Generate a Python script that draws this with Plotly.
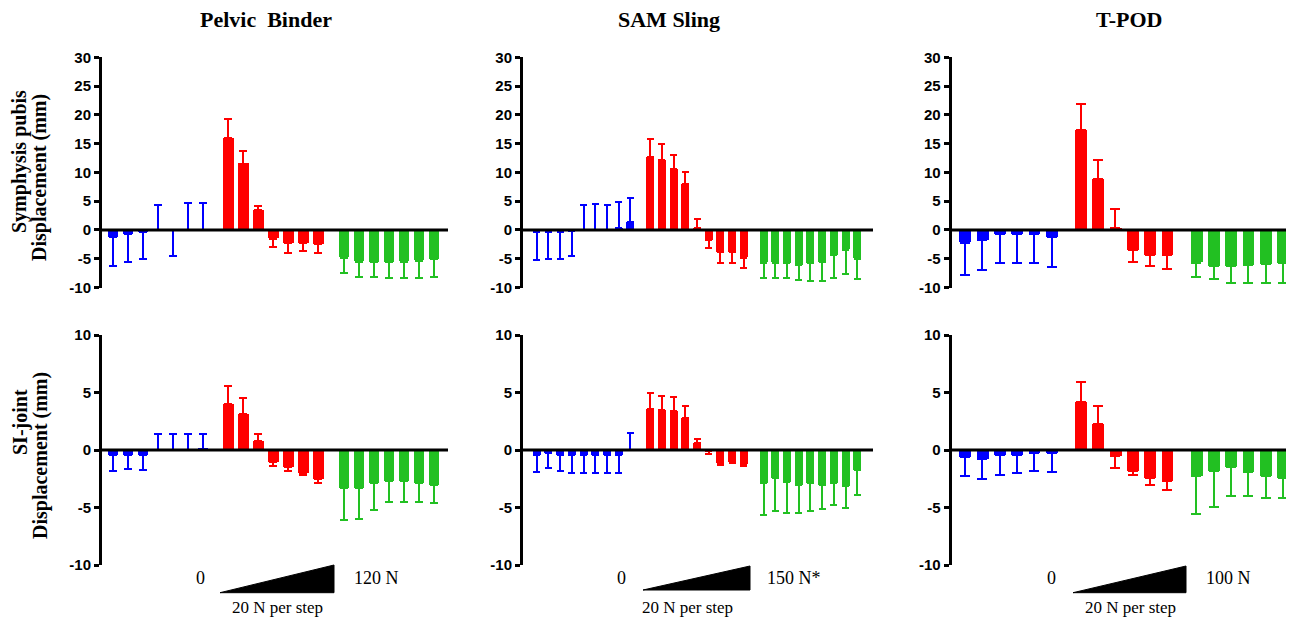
import plotly.graph_objects as go

W, H = 1294, 618
OFF = 8                      # page body margin of the rendered html
FW, FH = W - OFF, H - OFF    # figure size so the figure ends at the window edge

# ---------------- data ----------------
devices = ["Pelvic\u00a0 Binder", "SAM Sling", "T-POD"]
max_force = ["120 N", "150 N*", "100 N"]
zero_force = "0"
step_label = "20 N per step"
row_titles = [("Symphysis pubis", "Displacement (mm)"), ("SI-joint", "Displacement (mm)")]
group_colors = ["#0000FF", "#FF0000", "#22C022"]

# Pelvic Binder - symphysis pubis (mean, SD)
pb_sp_blue = [-1.3, -0.75, -0.35, 0.05, -0.05, 0.05, 0.05]
pb_sp_blue_sd = [4.9, 4.75, 4.75, 4.25, 4.55, 4.55, 4.65]
pb_sp_red = [15.9, 11.5, 3.4, -1.5, -2.3, -2.3, -2.5]
pb_sp_red_sd = [3.4, 2.2, 0.75, 1.5, 1.7, 1.3, 1.5]
pb_sp_green = [-4.8, -5.5, -5.65, -5.65, -5.5, -5.35, -5.1]
pb_sp_green_sd = [2.7, 2.6, 2.55, 2.7, 2.9, 3.0, 3.0]
# Pelvic Binder - SI joint
pb_si_blue = [-0.45, -0.4, -0.4, 0.02, 0.02, 0.02, 0.1]
pb_si_blue_sd = [1.35, 1.25, 1.35, 1.4, 1.4, 1.4, 1.3]
pb_si_red = [4.0, 3.1, 0.75, -1.0, -1.5, -2.0, -2.55]
pb_si_red_sd = [1.6, 1.4, 0.65, 0.4, 0.3, 0.2, 0.35]
pb_si_green = [-3.3, -3.3, -2.9, -2.7, -2.7, -2.85, -3.05]
pb_si_green_sd = [2.8, 2.7, 2.3, 1.8, 1.8, 1.7, 1.6]

# SAM Sling - symphysis pubis
sam_sp_blue = [-0.3, -0.3, -0.3, -0.1, 0.05, 0.05, 0.05, 0.3, 1.3]
sam_sp_blue_sd = [4.9, 4.7, 4.7, 4.5, 4.35, 4.45, 4.35, 4.6, 4.2]
sam_sp_red = [12.7, 12.1, 10.6, 8.0, 0.3, -1.8, -3.8, -3.9, -4.8]
sam_sp_red_sd = [3.1, 2.9, 2.5, 2.1, 1.55, 1.3, 1.9, 1.8, 1.8]
sam_sp_green = [-5.7, -5.7, -5.8, -6.1, -5.8, -5.6, -4.4, -3.4, -5.0]
sam_sp_green_sd = [2.6, 2.7, 2.6, 2.6, 3.1, 3.2, 3.9, 4.3, 3.6]
# SAM Sling - SI joint
sam_si_blue = [-0.4, -0.25, -0.4, -0.4, -0.4, -0.4, -0.4, -0.45, 0.02]
sam_si_blue_sd = [1.5, 1.35, 1.4, 1.6, 1.6, 1.6, 1.6, 1.55, 1.45]
sam_si_red = [3.6, 3.5, 3.35, 2.75, 0.6, -0.05, -1.1, -1.0, -1.2]
sam_si_red_sd = [1.4, 1.2, 1.25, 1.05, 0.4, 0.3, 0.2, 0.15, 0.2]
sam_si_green = [-2.85, -2.4, -2.75, -3.0, -2.9, -3.0, -2.9, -3.1, -1.7]
sam_si_green_sd = [2.8, 2.9, 2.7, 2.5, 2.4, 2.15, 1.9, 1.9, 2.2]

# T-POD - symphysis pubis
tp_sp_blue = [-2.2, -1.8, -0.75, -0.75, -0.75, -1.2]
tp_sp_blue_sd = [5.6, 5.2, 4.95, 4.95, 4.95, 5.2]
tp_sp_red = [17.3, 8.8, 0.3, -3.5, -4.4, -4.4]
tp_sp_red_sd = [4.6, 3.4, 3.4, 2.0, 1.9, 2.3]
tp_sp_green = [-5.7, -6.3, -6.3, -6.1, -6.0, -5.8]
tp_sp_green_sd = [2.4, 2.3, 3.0, 3.2, 3.3, 3.5]
# T-POD - SI joint
tp_si_blue = [-0.65, -0.8, -0.45, -0.4, -0.3, -0.3]
tp_si_blue_sd = [1.65, 1.75, 1.75, 1.6, 1.5, 1.6]
tp_si_red = [4.15, 2.25, -0.5, -1.8, -2.4, -2.7]
tp_si_red_sd = [1.75, 1.55, 1.05, 0.4, 0.6, 0.8]
tp_si_green = [-2.25, -1.8, -1.45, -1.95, -2.25, -2.4]
tp_si_green_sd = [3.35, 3.15, 2.55, 2.05, 1.9, 1.8]

panels = [
    [  # row 0: symphysis pubis
        [(pb_sp_blue, pb_sp_blue_sd), (pb_sp_red, pb_sp_red_sd), (pb_sp_green, pb_sp_green_sd)],
        [(sam_sp_blue, sam_sp_blue_sd), (sam_sp_red, sam_sp_red_sd), (sam_sp_green, sam_sp_green_sd)],
        [(tp_sp_blue, tp_sp_blue_sd), (tp_sp_red, tp_sp_red_sd), (tp_sp_green, tp_sp_green_sd)],
    ],
    [  # row 1: SI joint
        [(pb_si_blue, pb_si_blue_sd), (pb_si_red, pb_si_red_sd), (pb_si_green, pb_si_green_sd)],
        [(sam_si_blue, sam_si_blue_sd), (sam_si_red, sam_si_red_sd), (sam_si_green, sam_si_green_sd)],
        [(tp_si_blue, tp_si_blue_sd), (tp_si_red, tp_si_red_sd), (tp_si_green, tp_si_green_sd)],
    ],
]
y_ranges = [[-10, 30], [-10, 10]]

# ---------------- style / layout ----------------
GAP = 0.68
x_ranges = [[-0.75, 22.32], [-1.17, 28.7], [-0.77, 19.0]]
cap_w = [4, 3.5, 5]
x_dom_px = [(102, 448), (523, 873), (951.7, 1294)]
y_dom_px = [(57.3, 287.5), (335, 565)]

def px(x):
    return (x - OFF) / FW

def py(y):
    return 1 - (y - OFF) / FH

TICKFONT = dict(family="Liberation Sans, Arial, sans-serif", size=15, color="black", weight="bold")
SERIF = "Liberation Serif, Times New Roman, serif"

fig = go.Figure()
layout = dict(width=FW, height=FH, autosize=False,
              margin=dict(l=0, r=0, t=0, b=0, pad=0, autoexpand=False),
              paper_bgcolor="white", plot_bgcolor="white", showlegend=False,
              bargap=0, barmode="overlay", template="none")
shapes = []
annotations = []

for r in range(2):
    for c in range(3):
        idx = r * 3 + c + 1
        xa = "x" if idx == 1 else f"x{idx}"
        ya = "y" if idx == 1 else f"y{idx}"
        n = len(panels[r][c][0][0])
        for g, (means, sds) in enumerate(panels[r][c]):
            xs = [g * (n + GAP) + i for i in range(n)]
            up = [s if m >= 0 else 0 for m, s in zip(means, sds)]
            dn = [s if m < 0 else 0 for m, s in zip(means, sds)]
            fig.add_trace(go.Bar(
                x=xs, y=means, width=0.68, xaxis=xa, yaxis=ya,
                marker=dict(color=group_colors[g], line=dict(width=0)),
                error_y=dict(type="data", symmetric=False, array=up, arrayminus=dn,
                             color=group_colors[g], thickness=2, width=cap_w[c]),
                hoverinfo="skip",
            ))
        layout["xaxis" if idx == 1 else f"xaxis{idx}"] = dict(
            domain=[px(x_dom_px[c][0]), min(1.0, px(x_dom_px[c][1]))], range=x_ranges[c],
            visible=False, anchor=ya, fixedrange=True, automargin=False)
        lo, hi = y_ranges[r]
        tv = list(range(lo, hi + 1, 5))
        layout["yaxis" if idx == 1 else f"yaxis{idx}"] = dict(
            domain=[py(y_dom_px[r][1]), py(y_dom_px[r][0])], range=[lo, hi],
            tickvals=tv, ticktext=[str(v) for v in tv], showgrid=False, zeroline=False,
            showline=True, linewidth=3, linecolor="black", ticks="outside",
            ticklen=5, tickwidth=3, tickcolor="black", tickfont=TICKFONT,
            anchor=xa, fixedrange=True, automargin=False)
        shapes.append(dict(type="line", xref=f"{xa} domain", yref=ya, x0=0, x1=1,
                           y0=0, y1=0, line=dict(color="black", width=3), layer="above"))

def note(text, x, y, size, angle=0):
    return dict(text=text, x=px(x), y=py(y), xref="paper", yref="paper",
                xanchor="center", yanchor="middle", showarrow=False, textangle=angle,
                borderpad=0, font=dict(family=SERIF, size=size, color="black"))

# column titles
title_px = [266, 669, 1129]
for c in range(3):
    annotations.append(note(f"<b>{devices[c]}</b>", title_px[c], 20, 22))

# row titles
row_title_pos = [[(20, 162), (40, 178)], [(20, 422), (40, 456)]]
for r in range(2):
    for k in range(2):
        xx, yy = row_title_pos[r][k]
        annotations.append(note(f"<b>{row_titles[r][k]}</b>", xx, yy, 20, -90))

# force ramp annotations under bottom row
ramp = [dict(zero=200.7, x0=220, x1=334, yb=592.7, yt=565, maxx=376, step=277),
        dict(zero=621.7, x0=643, x1=750, yb=590, yt=566, maxx=794, step=687),
        dict(zero=1051.7, x0=1073, x1=1186, yb=592.7, yt=566, maxx=1228, step=1130)]
for c, rp in enumerate(ramp):
    shapes.append(dict(type="path", xref="paper", yref="paper",
                       path=f"M {px(rp['x0'])} {py(rp['yb'])} L {px(rp['x1'])} {py(rp['yb'])} "
                            f"L {px(rp['x1'])} {py(rp['yt'])} Z",
                       fillcolor="black", line=dict(color="black", width=1)))
    annotations.append(note(zero_force, rp["zero"], 578, 18))
    annotations.append(note(max_force[c], rp["maxx"], 578, 18))
    annotations.append(note(step_label, rp["step"], 607, 17))

layout["shapes"] = shapes
layout["annotations"] = annotations
fig.update_layout(**layout)
fig.write_html("out.html")
